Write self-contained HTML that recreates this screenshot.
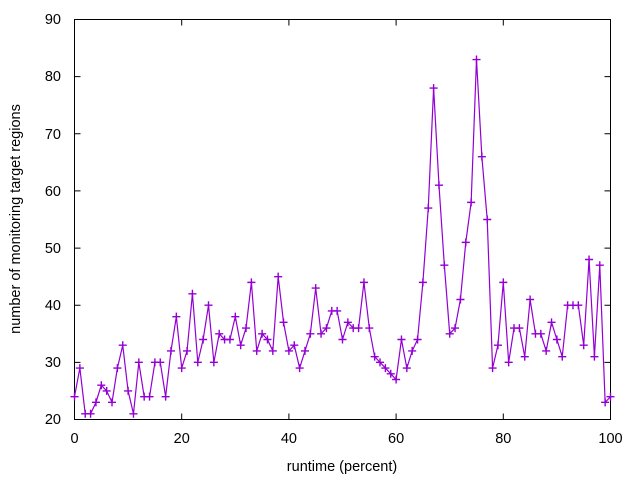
<!DOCTYPE html>
<html><head><meta charset="utf-8"><style>
html,body{margin:0;padding:0;background:#fff}
svg{display:block;font-family:"Liberation Sans",sans-serif;font-size:14.5px}
</style></head><body>
<svg width="640" height="480" viewBox="0 0 640 480" xmlns="http://www.w3.org/2000/svg">
<defs>
<marker id="p" markerUnits="userSpaceOnUse" markerWidth="1.5" markerHeight="1.4" viewBox="-4 -4 8 8" preserveAspectRatio="none" refX="0" refY="0" overflow="visible">
<path d="M-4 0H4M0-4V4" stroke="#9400d3" stroke-width="1.4" fill="none"/>
</marker>
</defs>
<rect x="74.5" y="19.5" width="536" height="400" fill="none" stroke="#000" stroke-width="1"/>
<g stroke="#000" stroke-width="1">
<path d="M74.5 419.5v-6M181.7 419.5v-6M288.9 419.5v-6M396.1 419.5v-6M503.3 419.5v-6M610.5 419.5v-6
M74.5 19.5v6M181.7 19.5v6M288.9 19.5v6M396.1 19.5v6M503.3 19.5v6M610.5 19.5v6
M74.5 419.5h6M74.5 362.4h6M74.5 305.2h6M74.5 248.1h6M74.5 190.9h6M74.5 133.8h6M74.5 76.6h6M74.5 19.5h6
M610.5 419.5h-6M610.5 362.4h-6M610.5 305.2h-6M610.5 248.1h-6M610.5 190.9h-6M610.5 133.8h-6M610.5 76.6h-6M610.5 19.5h-6"/>
</g>
<g text-anchor="end">
<text x="61" y="424">20</text><text x="61" y="367">30</text><text x="61" y="310">40</text><text x="61" y="253">50</text>
<text x="61" y="196">60</text><text x="61" y="139">70</text><text x="61" y="81">80</text><text x="61" y="24">90</text>
</g>
<g text-anchor="middle">
<text x="74.5" y="443">0</text><text x="181.7" y="443">20</text><text x="288.9" y="443">40</text>
<text x="396.1" y="443">60</text><text x="503.3" y="443">80</text><text x="610.5" y="443">100</text>
<text x="342" y="471">runtime (percent)</text>
<text transform="translate(20,219) rotate(-90)">number of monitoring target regions</text>
</g>
<g transform="translate(74.5,533.78) scale(5.36,-5.714)">
<polyline fill="none" stroke="#9400d3" stroke-width="1.2" vector-effect="non-scaling-stroke" marker-start="url(#p)" marker-mid="url(#p)" marker-end="url(#p)"
points="0,24 1,29 2,21 3,21 4,23 5,26 6,25 7,23 8,29 9,33 10,25 11,21 12,30 13,24 14,24 15,30 16,30 17,24 18,32 19,38 20,29 21,32 22,42 23,30 24,34 25,40 26,30 27,35 28,34 29,34 30,38 31,33 32,36 33,44 34,32 35,35 36,34 37,32 38,45 39,37 40,32 41,33 42,29 43,32 44,35 45,43 46,35 47,36 48,39 49,39 50,34 51,37 52,36 53,36 54,44 55,36 56,31 57,30 58,29 59,28 60,27 61,34 62,29 63,32 64,34 65,44 66,57 67,78 68,61 69,47 70,35 71,36 72,41 73,51 74,58 75,83 76,66 77,55 78,29 79,33 80,44 81,30 82,36 83,36 84,31 85,41 86,35 87,35 88,32 89,37 90,34 91,31 92,40 93,40 94,40 95,33 96,48 97,31 98,47 99,23 100,24"/>
</g>
</svg>
</body></html>
